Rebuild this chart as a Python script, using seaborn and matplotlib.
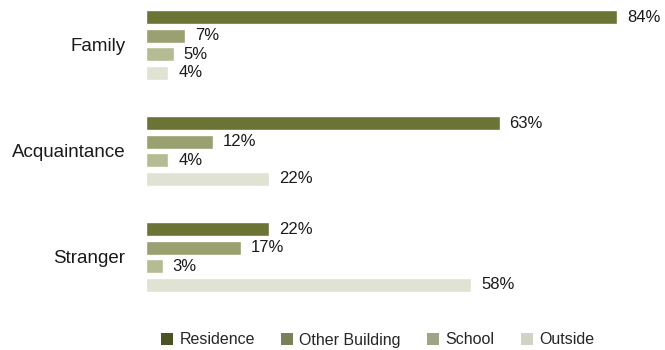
import matplotlib
matplotlib.use("Agg")
import matplotlib.pyplot as plt
from matplotlib.patches import Patch
import seaborn as sns
import pandas as pd

# Relationship of offender to victim, and where the incident took place (%)
relationships = ["Family", "Acquaintance", "Stranger"]
locations = ["Residence", "Other Building", "School", "Outside"]
residence = [84, 63, 22]
other_building = [7, 12, 17]
school = [5, 4, 3]
outside = [4, 22, 58]

bar_colors = ["#6b7335", "#9aa070", "#b5bb92", "#e0e2d3"]
legend_colors = ["#4b5322", "#7b8157", "#9ea486", "#d1d3c6"]

rows = []
for loc, vals in zip(locations, [residence, other_building, school, outside]):
    for rel, v in zip(relationships, vals):
        rows.append({"Relationship": rel, "Location": loc, "Percent": v})
df = pd.DataFrame(rows)

sns.set_style("white")
plt.rcParams["font.family"] = ["Liberation Sans", "DejaVu Sans"]

fig = plt.figure(figsize=(6.65, 3.5), dpi=100)
ax = fig.add_axes([146 / 665, 1 - 310 / 350, 505 / 665, 310 / 350])

sns.barplot(data=df, y="Relationship", x="Percent", hue="Location",
            order=relationships, hue_order=locations, palette=bar_colors,
            saturation=1, orient="h", width=0.7, gap=0.25, legend=False, ax=ax)

for container in ax.containers:
    ax.bar_label(container, fmt="%g%%", padding=7, fontsize=12, color="#1a1a1a")

ax.set_xlim(0, 90)
ax.set_ylim(2.5, -0.4245)
ax.set_xlabel("")
ax.set_ylabel("")
ax.set_xticks([])
ax.tick_params(axis="y", length=0, pad=15, labelsize=13.5, labelcolor="#1a1a1a")
sns.despine(ax=ax, left=True, bottom=True)

handles = [Patch(facecolor=c, edgecolor="none") for c in legend_colors]
fig.legend(handles, locations, loc="center", bbox_to_anchor=(0.568, 1 - 340 / 350),
           ncol=4, frameon=False, fontsize=11.5, handlelength=0.75, handleheight=0.75,
           handletextpad=0.4, columnspacing=1.65)

fig.savefig("out.png", dpi=100)
